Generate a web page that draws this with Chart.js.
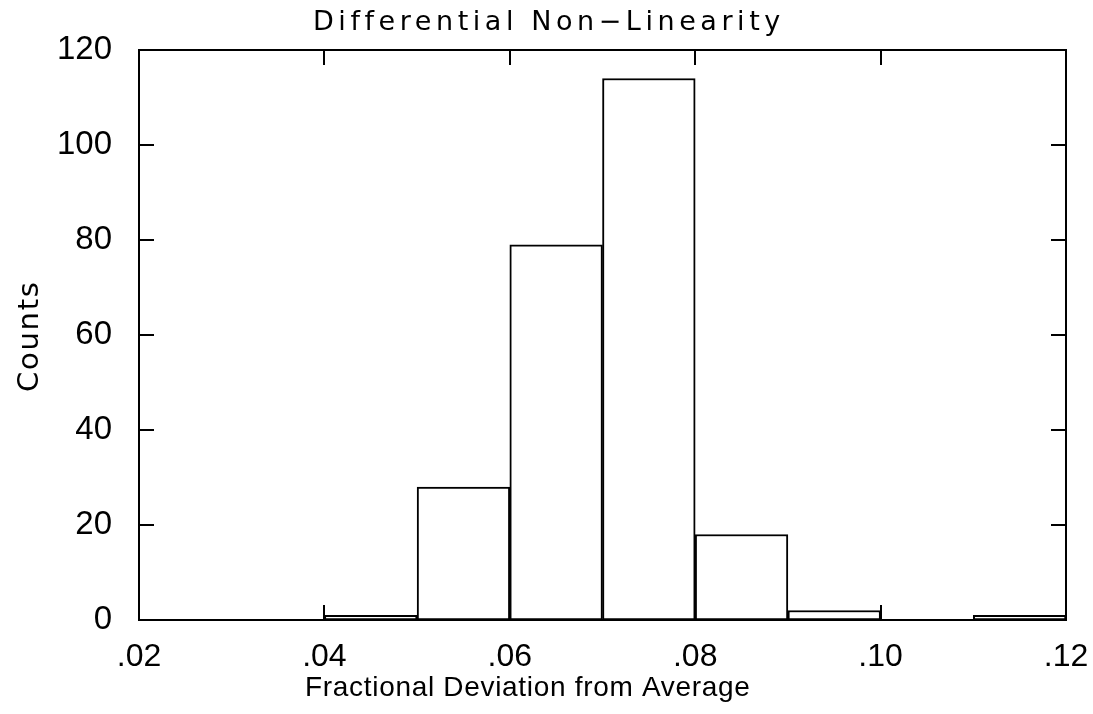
<!DOCTYPE html>
<html>
<head>
<meta charset="utf-8">
<script src="https://cdn.jsdelivr.net/npm/chart.js@4/dist/chart.umd.min.js"></script>
<style>
  html, body { margin: 0; padding: 0; background: #ffffff; }
  #c { display: block; }
</style>
</head>
<body>
<canvas id="c" width="1093" height="714"></canvas>
<script>
// ---- data ----
const binLow = [0.02, 0.03, 0.04, 0.05, 0.06, 0.07, 0.08, 0.09, 0.10, 0.11];
const binWidth = 0.01;
const counts = [0, 0, 1, 28, 79, 114, 18, 2, 0, 1];
const xTickValues = [0.02, 0.04, 0.06, 0.08, 0.10, 0.12];
const yTickValues = [0, 20, 40, 60, 80, 100, 120];
const titleText = "Differential Non\u2212Linearity";
const xTitleText = "Fractional Deviation from Average";
const yTitleText = "Counts";

const FONT = "'Liberation Sans', Arial, sans-serif";
const WIDE = "'DejaVu Sans', 'Liberation Sans', sans-serif";

function fitText(ctx, text, font, targetWidth) {
  ctx.font = font;
  ctx.letterSpacing = "0px";
  const w = ctx.measureText(text).width;
  const sp = (targetWidth - w) / Math.max(1, text.length - 1);
  ctx.letterSpacing = sp.toFixed(2) + "px";
}

const framePlugin = {
  id: "frame",
  afterDatasetsDraw(chart) {
    const ctx = chart.ctx;
    const a = chart.chartArea;
    const xs = chart.scales.x, ys = chart.scales.y;
    ctx.save();
    ctx.strokeStyle = "#000";
    ctx.lineWidth = 2;
    ctx.strokeRect(a.left, a.top, a.right - a.left, a.bottom - a.top);
    const tl = 15;
    ctx.beginPath();
    xTickValues.forEach(v => {
      const px = Math.round(xs.getPixelForValue(v));
      ctx.moveTo(px, a.bottom); ctx.lineTo(px, a.bottom - tl);
      ctx.moveTo(px, a.top); ctx.lineTo(px, a.top + tl);
    });
    yTickValues.forEach(v => {
      const py = Math.round(ys.getPixelForValue(v));
      ctx.moveTo(a.left, py); ctx.lineTo(a.left + tl, py);
      ctx.moveTo(a.right, py); ctx.lineTo(a.right - tl, py);
    });
    ctx.stroke();
    ctx.restore();
  },
  afterDraw(chart) {
    const ctx = chart.ctx;
    ctx.save();
    ctx.fillStyle = "#000";
    ctx.textBaseline = "alphabetic";
    ctx.textAlign = "left";
    // title
    fitText(ctx, titleText, "27px " + WIDE, 467);
    ctx.fillText(titleText, 313, 30);
    // x title
    fitText(ctx, xTitleText, "28px " + FONT, 445);
    ctx.fillText(xTitleText, 305, 696);
    // y title
    ctx.translate(38, 392);
    ctx.rotate(-Math.PI / 2);
    fitText(ctx, yTitleText, "29px " + WIDE, 110);
    ctx.fillText(yTitleText, 0, 0);
    ctx.restore();
  }
};

new Chart(document.getElementById("c"), {
  type: "bar",
  data: {
    datasets: [{
      label: "Counts",
      data: binLow.map((lo, i) => ({ x: lo + binWidth / 2, y: counts[i] })),
      backgroundColor: "#ffffff",
      borderColor: "#000000",
      borderWidth: 2,
      borderSkipped: false,
      barPercentage: 1.0,
      categoryPercentage: 1.0
    }]
  },
  options: {
    responsive: false,
    animation: false,
    devicePixelRatio: 1,
    layout: { padding: { top: 50, right: 27, left: 0, bottom: 0 } },
    plugins: {
      legend: { display: false },
      title: { display: false },
      tooltip: { enabled: false }
    },
    scales: {
      x: {
        type: "linear",
        offset: false,
        min: 0.02,
        max: 0.12,
        afterFit(s) { s.height = 94; s.paddingLeft = 0; s.paddingRight = 0; },
        afterBuildTicks(s) { s.ticks = xTickValues.map(v => ({ value: v })); },
        grid: { display: false, drawTicks: false, offset: false },
        border: { display: false },
        ticks: {
          padding: 18,
          color: "#000",
          maxRotation: 0,
          autoSkip: false,
          font: { family: FONT, size: 32 },
          callback: v => Number(v).toFixed(2).replace(/^0/, "")
        }
      },
      y: {
        type: "linear",
        min: 0,
        max: 120,
        afterFit(s) { s.width = 139; s.paddingTop = 0; s.paddingBottom = 0; },
        afterBuildTicks(s) { s.ticks = yTickValues.map(v => ({ value: v })); },
        grid: { display: false, drawTicks: false },
        border: { display: false },
        ticks: {
          padding: 27,
          color: "#000",
          autoSkip: false,
          font: { family: FONT, size: 33 },
          callback: v => String(v)
        }
      }
    }
  },
  plugins: [framePlugin]
});
</script>
</body>
</html>
